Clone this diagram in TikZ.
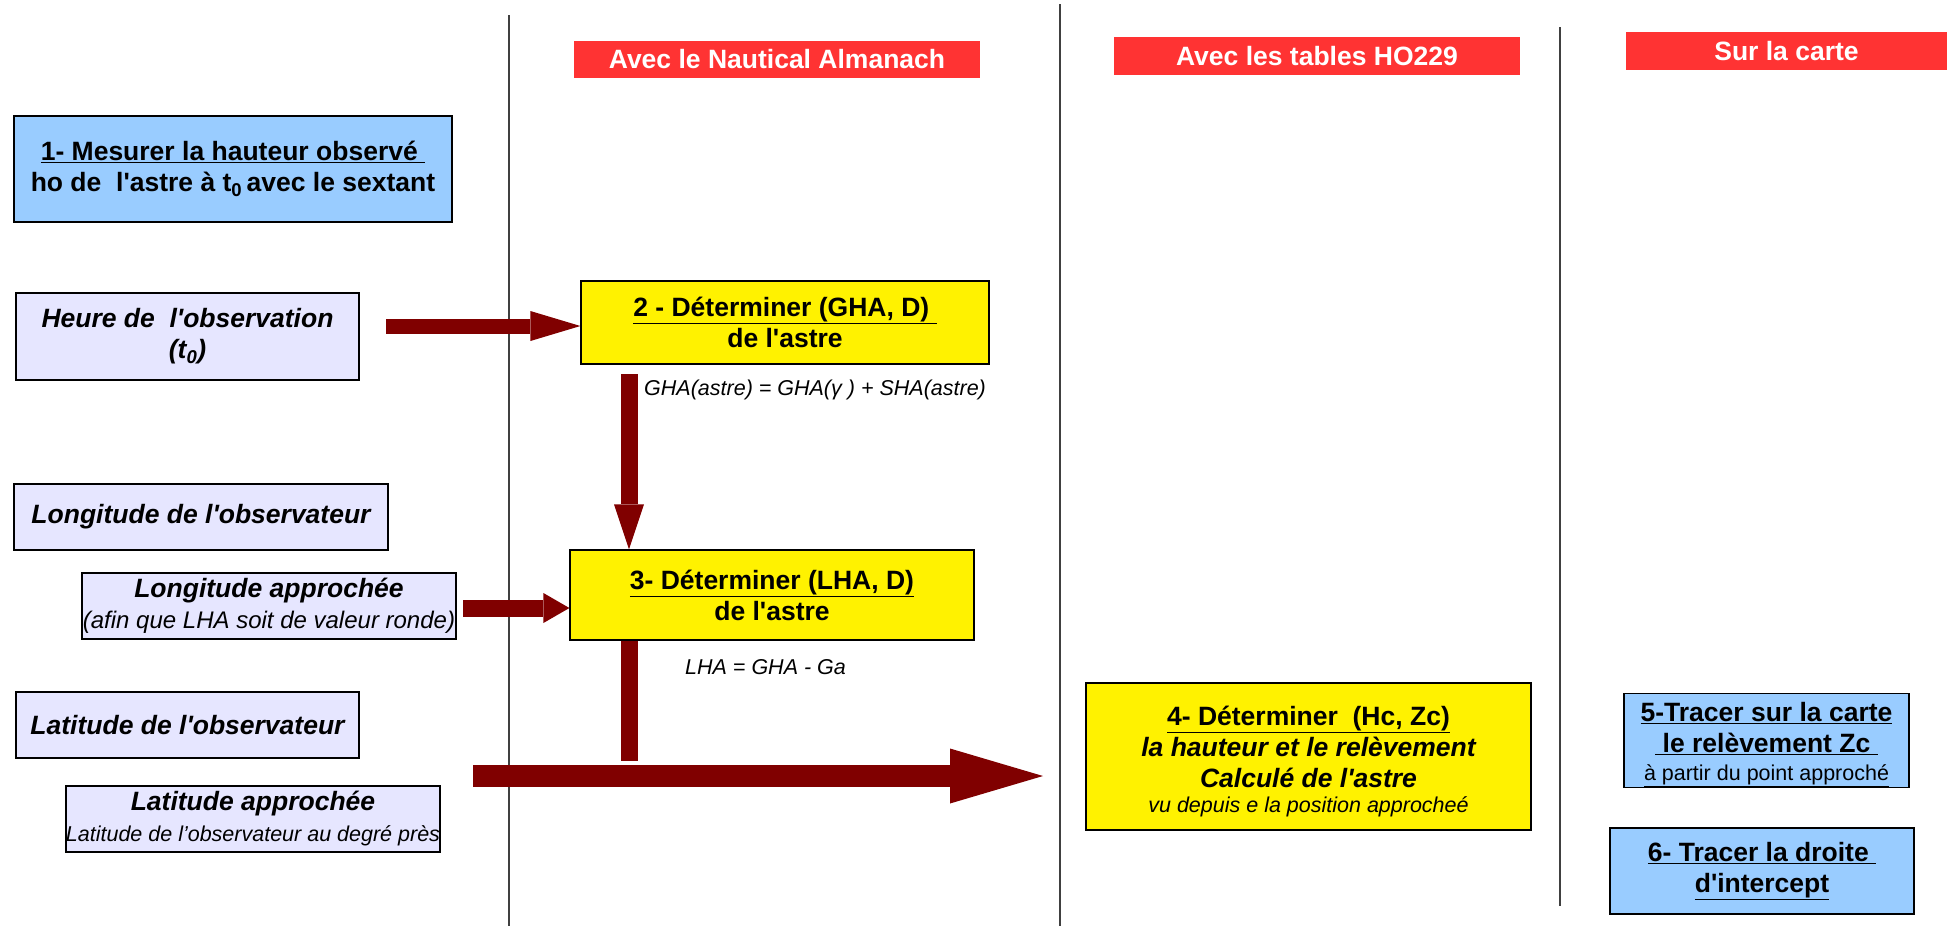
\documentclass[tikz,border=0pt]{standalone}
\usepackage{fontspec}
\usepackage{tikz}
\usetikzlibrary{arrows.meta, calc}
\newfontfamily\arialish{Liberation Sans}
\definecolor{hdrred}{HTML}{FF3333}
\definecolor{stepblue}{HTML}{99CCFF}
\definecolor{datalav}{HTML}{E6E6FF}
\definecolor{arrowred}{HTML}{800000}
\newcommand{\bigtxt}{\arialish\fontsize{26.5}{31}\selectfont\bfseries}
\newcommand{\subtxt}{\fontsize{24}{29}\selectfont\mdseries}
\newcommand{\smalltxt}{\fontsize{21.5}{27}\selectfont\mdseries}
\tikzstyle{hdr}=[fill=hdrred, text=white, inner sep=0pt, font=\bigtxt]
\tikzstyle{stepbox}=[draw, line width=1.2pt, align=center, inner sep=0pt, font=\bigtxt]
\tikzstyle{databox}=[stepbox, fill=datalav, font=\bigtxt\itshape]
\tikzstyle{note}=[anchor=west, inner sep=0pt, font=\arialish\smalltxt\itshape]
\tikzstyle{sep}=[line width=1.3pt, black!75]
\tikzstyle{blockarrow}=[arrowred]

\begin{document}
\begin{tikzpicture}[x=1pt, y=-1pt]
\useasboundingbox (0,0) rectangle (1952,926);
% the column separators
\draw[sep] (509,15) -- (509,926);
\draw[sep] (1060,4) -- (1060,926);
\draw[sep] (1560,27) -- (1560,906);
% the column titles
\node[hdr, minimum width=406pt, minimum height=37pt] (almanach) at (777,59.5) {Avec le Nautical Almanach};
\node[hdr, minimum width=406pt, minimum height=38pt] (tables) at (1317,56) {Avec les tables HO229};
\node[hdr, minimum width=321pt, minimum height=38pt] (carte) at (1786.5,51) {Sur la carte};
% the data on the left
\node[stepbox, fill=stepblue, minimum width=438pt, minimum height=106pt] (mesure) at (233,169)
  {\underline{1- Mesurer la hauteur observé\ }\\ho de\ \ l'astre à t\textsubscript{0}\,avec le sextant};
\node[databox, minimum width=343pt, minimum height=87pt] (heure) at (187.5,336.5)
  {Heure de\ \ l'observation\\(t\textsubscript{0})};
\node[databox, minimum width=374pt, minimum height=66pt] (longobs) at (201,517) {Longitude de l'observateur};
\node[databox, minimum width=374pt, minimum height=66pt] (longapp) at (269,606)
  {Longitude approchée\\{\subtxt (afin que LHA soit de valeur ronde)}};
\node[databox, minimum width=343pt, minimum height=66pt] (latobs) at (187.5,725) {Latitude de l'observateur};
\node[databox, minimum width=374pt, minimum height=66pt] (latapp) at (253,819)
  {Latitude approchée\\{\smalltxt Latitude de l’observateur au degré près}};
% the steps
\node[stepbox, fill=yellow, minimum width=408pt, minimum height=83pt] (det2) at (785,322.5)
  {\underline{2 - Déterminer (GHA, D)\ }\\de l'astre};
\node[note] (gha) at (644,390) {GHA(astre) = GHA(γ\ ) + SHA(astre)};
\node[stepbox, fill=yellow, minimum width=404pt, minimum height=90pt] (det3) at (772,595)
  {\underline{3- Déterminer (LHA, D)}\\de l'astre};
\node[note] (lha) at (685,667) {LHA = GHA - Ga};
\node[stepbox, fill=yellow, minimum width=445pt, minimum height=147pt] (det4) at (1308.5,756.5)
  {\rule{0pt}{30pt}\underline{4- Déterminer\ \ (Hc, Zc)}\\{\itshape la hauteur et le relèvement}\\{\itshape Calculé de l'astre}\\[-6pt]{\smalltxt\itshape vu depuis e la position approcheé}};
\node[stepbox, fill=stepblue, minimum width=285pt, minimum height=87pt] (trace5) at (1766.5,740.5)
  {\rule{0pt}{28pt}\underline{5-Tracer sur la carte}\\\underline{\ le relèvement Zc\ }\\[-3pt]{\smalltxt\underline{à partir du point approché}}};
\node[stepbox, fill=stepblue, minimum width=304pt, minimum height=86pt] (trace6) at (1762,871)
  {\underline{6- Tracer la droite\ }\\\underline{d'intercept}};
% the arrows
\coordinate (a1) at (386,326);
\coordinate (a2) at (629,374);
\coordinate (a3) at (463,608);
\coordinate (junc) at (629,761);
\coordinate (a4) at (473,776);
\coordinate (a4end) at (1043,776);
\draw[blockarrow, line width=15pt, -{Triangle[length=50pt, width=30pt, line width=0pt]}] (a1) -- (a1 -| det2.west);
\draw[blockarrow, line width=17pt, -{Triangle[length=45pt, width=30pt, line width=0pt]}] (a2) -- (a2 |- det3.north);
\draw[blockarrow, line width=17pt, -{Triangle[length=26pt, width=30pt, line width=0pt]}] (a3) -- (a3 -| det3.west);
\draw[blockarrow, line width=17pt] (a2 |- det3.south) -- (junc);
\draw[blockarrow, line width=22pt, -{Triangle[length=93pt, width=55pt, line width=0pt]}] (a4) -- (a4end);
\end{tikzpicture}
\end{document}
